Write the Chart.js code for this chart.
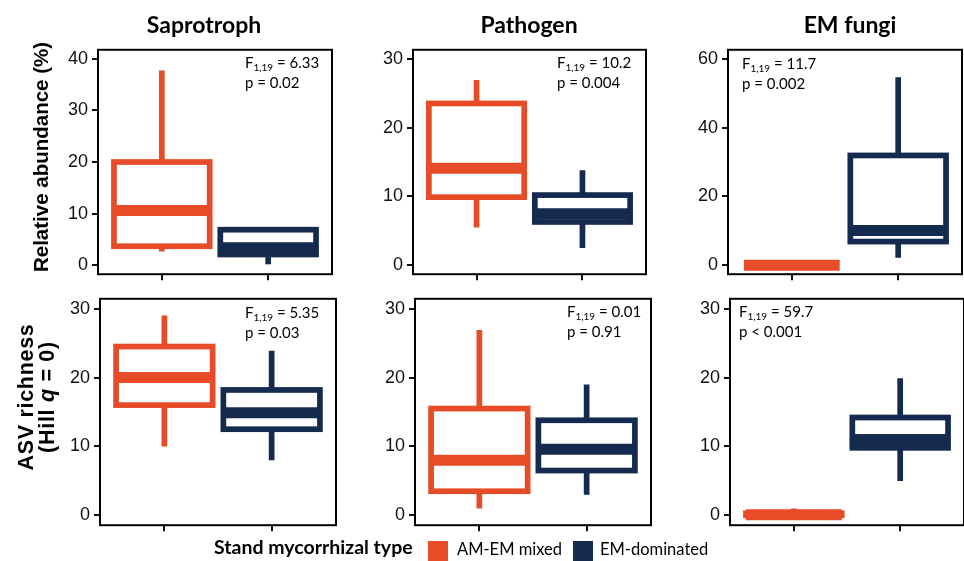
<!DOCTYPE html>
<html><head><meta charset="utf-8">
<script src="https://cdn.jsdelivr.net/npm/chart.js@4.4.0/dist/chart.umd.min.js"></script>
<style>
body{margin:0;background:#fff;width:964px;height:561px;overflow:hidden;position:relative;}
canvas{position:absolute;}
.t{position:absolute;font-family:Lato,sans-serif;font-weight:700;font-size:23px;line-height:26px;width:240px;text-align:center;color:#000;white-space:nowrap;}
.a{position:absolute;font-family:Lato,sans-serif;font-size:15px;line-height:19.5px;color:#000;white-space:nowrap;}
.a sub{font-size:10px;line-height:0;vertical-align:-3px;}
.yt{position:absolute;font-family:"Liberation Sans",Arial,sans-serif;font-weight:700;color:#000;white-space:nowrap;text-align:center;transform:translate(-50%,-50%) rotate(-90deg);}
.lg{position:absolute;font-family:Lato,sans-serif;color:#000;white-space:nowrap;line-height:20px;}
.sq{position:absolute;width:20px;height:20px;}
</style></head><body>
<script>
// ---- data ----
const groups = ['AM-EM mixed', 'EM-dominated'];
const groupColors = ['#E84B27', '#142A4F'];
const panelTitles = ['Saprotroph', 'Pathogen', 'EM fungi'];
const rowTitles = ['Relative abundance (%)', 'ASV richness (Hill q = 0)'];
// box statistics: [min, q1, median, q3, max]
const saproAbundAM = [2.7, 3.7, 10.6, 20.0, 37.7];
const saproAbundEM = [0.2, 2.1, 3.4, 6.9, 6.9];
const pathoAbundAM = [5.5, 9.9, 14.1, 23.5, 26.9];
const pathoAbundEM = [2.5, 6.3, 7.5, 10.2, 13.8];
const emAbundAM = [0, 0, 0, 0, 0];
const emAbundEM = [2.2, 6.9, 10.1, 31.9, 54.6];
const saproRichAM = [10.0, 16.0, 20.0, 24.5, 29.0];
const saproRichEM = [8.0, 12.5, 14.9, 18.2, 23.9];
const pathoRichAM = [1.0, 3.5, 8.0, 15.5, 26.9];
const pathoRichEM = [3.0, 6.5, 9.6, 13.8, 19.0];
const emRichAM = [0, 0, 0.1, 0.3, 1.0];
const emRichEM = [5.0, 9.8, 11.0, 14.2, 19.9];
// y tick labels
const ticksSaproAbund = [0, 10, 20, 30, 40];
const ticksPathoAbund = [0, 10, 20, 30];
const ticksEmAbund = [0, 20, 40, 60];
const ticksRich = [0, 10, 20, 30];
// y ranges
const rangeSaproAbund = [-1.714, 41.71];
const rangePathoAbund = [-1.286, 31.29];
const rangeEmAbund = [-2.571, 62.57];
const rangeRich = [-1.43, 31.43];
// F tests
const fValues = ['6.33', '10.2', '11.7', '5.35', '0.01', '59.7'];
const pValues = ['p = 0.02', 'p = 0.004', 'p = 0.002', 'p = 0.03', 'p = 0.91', 'p < 0.001'];

// ---- layout (plot rectangles) ----
const panels = [
  {rect:[98,47,332,275],  stats:[saproAbundAM,saproAbundEM], ticks:ticksSaproAbund, range:rangeSaproAbund, ann:[245,53]},
  {rect:[413,47,646,275], stats:[pathoAbundAM,pathoAbundEM], ticks:ticksPathoAbund, range:rangePathoAbund, ann:[557,53]},
  {rect:[728,47,962,275], stats:[emAbundAM,emAbundEM],       ticks:ticksEmAbund,    range:rangeEmAbund,    ann:[742,54]},
  {rect:[100,296,336,526],stats:[saproRichAM,saproRichEM],   ticks:ticksRich,       range:rangeRich,       ann:[245,303]},
  {rect:[415,296,651,526],stats:[pathoRichAM,pathoRichEM],   ticks:ticksRich,       range:rangeRich,       ann:[567,302]},
  {rect:[730,296,964,526],stats:[emRichAM,emRichEM],         ticks:ticksRich,       range:rangeRich,       ann:[739,302]}
];

const boxPlugin = {
  id: 'boxplot',
  afterDatasetsDraw(chart) {
    const {ctx, scales: {x, y}} = chart;
    const unit = x.getPixelForValue(1) - x.getPixelForValue(0);
    const half = 0.45 * unit;
    chart.data.datasets.forEach(ds => {
      const s = ds.stats;
      const cx = x.getPixelForValue(ds.data[0].x);
      const [mn, q1, md, q3, mx] = s.map(v => y.getPixelForValue(v));
      ctx.save();
      ctx.strokeStyle = ds.boxColor;
      ctx.lineWidth = 5.7;
      ctx.lineCap = 'butt';
      ctx.lineJoin = 'miter';
      ctx.beginPath();
      if (s[4] > s[3]) { ctx.moveTo(cx, q3); ctx.lineTo(cx, mx); }
      if (s[0] < s[1]) { ctx.moveTo(cx, q1); ctx.lineTo(cx, mn); }
      ctx.stroke();
      if (s[3] > s[1]) {
        ctx.fillStyle = '#fff';
        ctx.fillRect(cx - half, q3, 2 * half, q1 - q3);
        ctx.strokeRect(cx - half, q3, 2 * half, q1 - q3);
      }
      ctx.lineWidth = 11;
      ctx.beginPath();
      ctx.moveTo(cx - half, md); ctx.lineTo(cx + half, md);
      ctx.stroke();
      ctx.restore();
    });
  },
  afterDraw(chart) {
    const {ctx, chartArea: a} = chart;
    ctx.save();
    ctx.strokeStyle = '#000';
    ctx.lineWidth = 2;
    ctx.strokeRect(a.left, a.top, a.right - a.left, a.bottom - a.top);
    ctx.restore();
  }
};

const YW = 60, PT = 12, PR = 6, XH = 14;
panels.forEach((p, i) => {
  const [L, T, R, B] = p.rect;
  const cv = document.createElement('canvas');
  cv.width = R - L + YW + PR;
  cv.height = B - T + PT + XH;
  cv.style.left = (L - YW) + 'px';
  cv.style.top = (T - PT) + 'px';
  document.body.appendChild(cv);
  new Chart(cv, {
    type: 'scatter',
    data: {
      datasets: groups.map((g, k) => ({
        label: g,
        data: [{x: k, y: p.stats[k][2]}],
        stats: p.stats[k],
        boxColor: groupColors[k],
        pointRadius: 0,
        showLine: false
      }))
    },
    options: {
      responsive: false,
      animation: false,
      events: [],
      layout: {padding: {left: 0, top: PT, right: PR, bottom: 0}},
      plugins: {legend: {display: false}, title: {display: false}, tooltip: {enabled: false}},
      scales: {
        x: {
          type: 'linear', min: -0.6, max: 1.6,
          afterBuildTicks: s => { s.ticks = [0, 1].map(v => ({value: v})); },
          afterFit: s => { s.height = XH; },
          ticks: {display: false},
          grid: {drawOnChartArea: false, drawTicks: true, tickLength: 6, color: '#111', lineWidth: 2},
          border: {display: false}
        },
        y: {
          type: 'linear', min: p.range[0], max: p.range[1],
          afterBuildTicks: s => { s.ticks = p.ticks.map(v => ({value: v})); },
          afterFit: s => { s.width = YW; },
          ticks: {font: {family: '"Liberation Sans", Arial, sans-serif', size: 18}, color: '#111', padding: 4, autoSkip: false},
          grid: {drawOnChartArea: false, drawTicks: true, tickLength: 6, color: '#111', lineWidth: 2},
          border: {display: false}
        }
      }
    },
    plugins: [boxPlugin]
  });
  const ann = document.createElement('div');
  ann.className = 'a';
  ann.style.left = p.ann[0] + 'px';
  ann.style.top = p.ann[1] + 'px';
  ann.innerHTML = 'F<sub>1,19</sub> = ' + fValues[i] + '<br>' + pValues[i].replace('<', '&lt;');
  document.body.appendChild(ann);
});

// panel titles
const titleCenters = [204, 529, 850];
panelTitles.forEach((t, i) => {
  const d = document.createElement('div');
  d.className = 't';
  d.style.left = (titleCenters[i] - 120) + 'px';
  d.style.top = '11px';
  d.textContent = t;
  document.body.appendChild(d);
});

// row titles
const y1 = document.createElement('div');
y1.className = 'yt';
y1.style.left = '41px'; y1.style.top = '157px';
y1.style.fontSize = '20.5px'; y1.style.lineHeight = '22px';
y1.textContent = rowTitles[0];
document.body.appendChild(y1);
const y2 = document.createElement('div');
y2.className = 'yt';
y2.style.left = '37px'; y2.style.top = '397px';
y2.style.fontSize = '21.5px'; y2.style.lineHeight = '21px'; y2.style.letterSpacing = '0.7px';
y2.innerHTML = 'ASV richness<br>(Hill <i>q</i> = 0)';
document.body.appendChild(y2);

// legend
const lgTitle = document.createElement('div');
lgTitle.className = 'lg';
lgTitle.style.left = '214px'; lgTitle.style.top = '537px';
lgTitle.style.fontWeight = '700'; lgTitle.style.fontSize = '19.5px';
lgTitle.textContent = 'Stand mycorrhizal type';
document.body.appendChild(lgTitle);
const sqX = [428, 573], txX = [457, 600];
groups.forEach((g, k) => {
  const s = document.createElement('div');
  s.className = 'sq';
  s.style.left = sqX[k] + 'px'; s.style.top = '541px';
  s.style.background = groupColors[k];
  document.body.appendChild(s);
  const t = document.createElement('div');
  t.className = 'lg';
  t.style.left = txX[k] + 'px'; t.style.top = '539px';
  t.style.fontSize = '16.5px';
  t.textContent = g;
  document.body.appendChild(t);
});
</script>
</body></html>
